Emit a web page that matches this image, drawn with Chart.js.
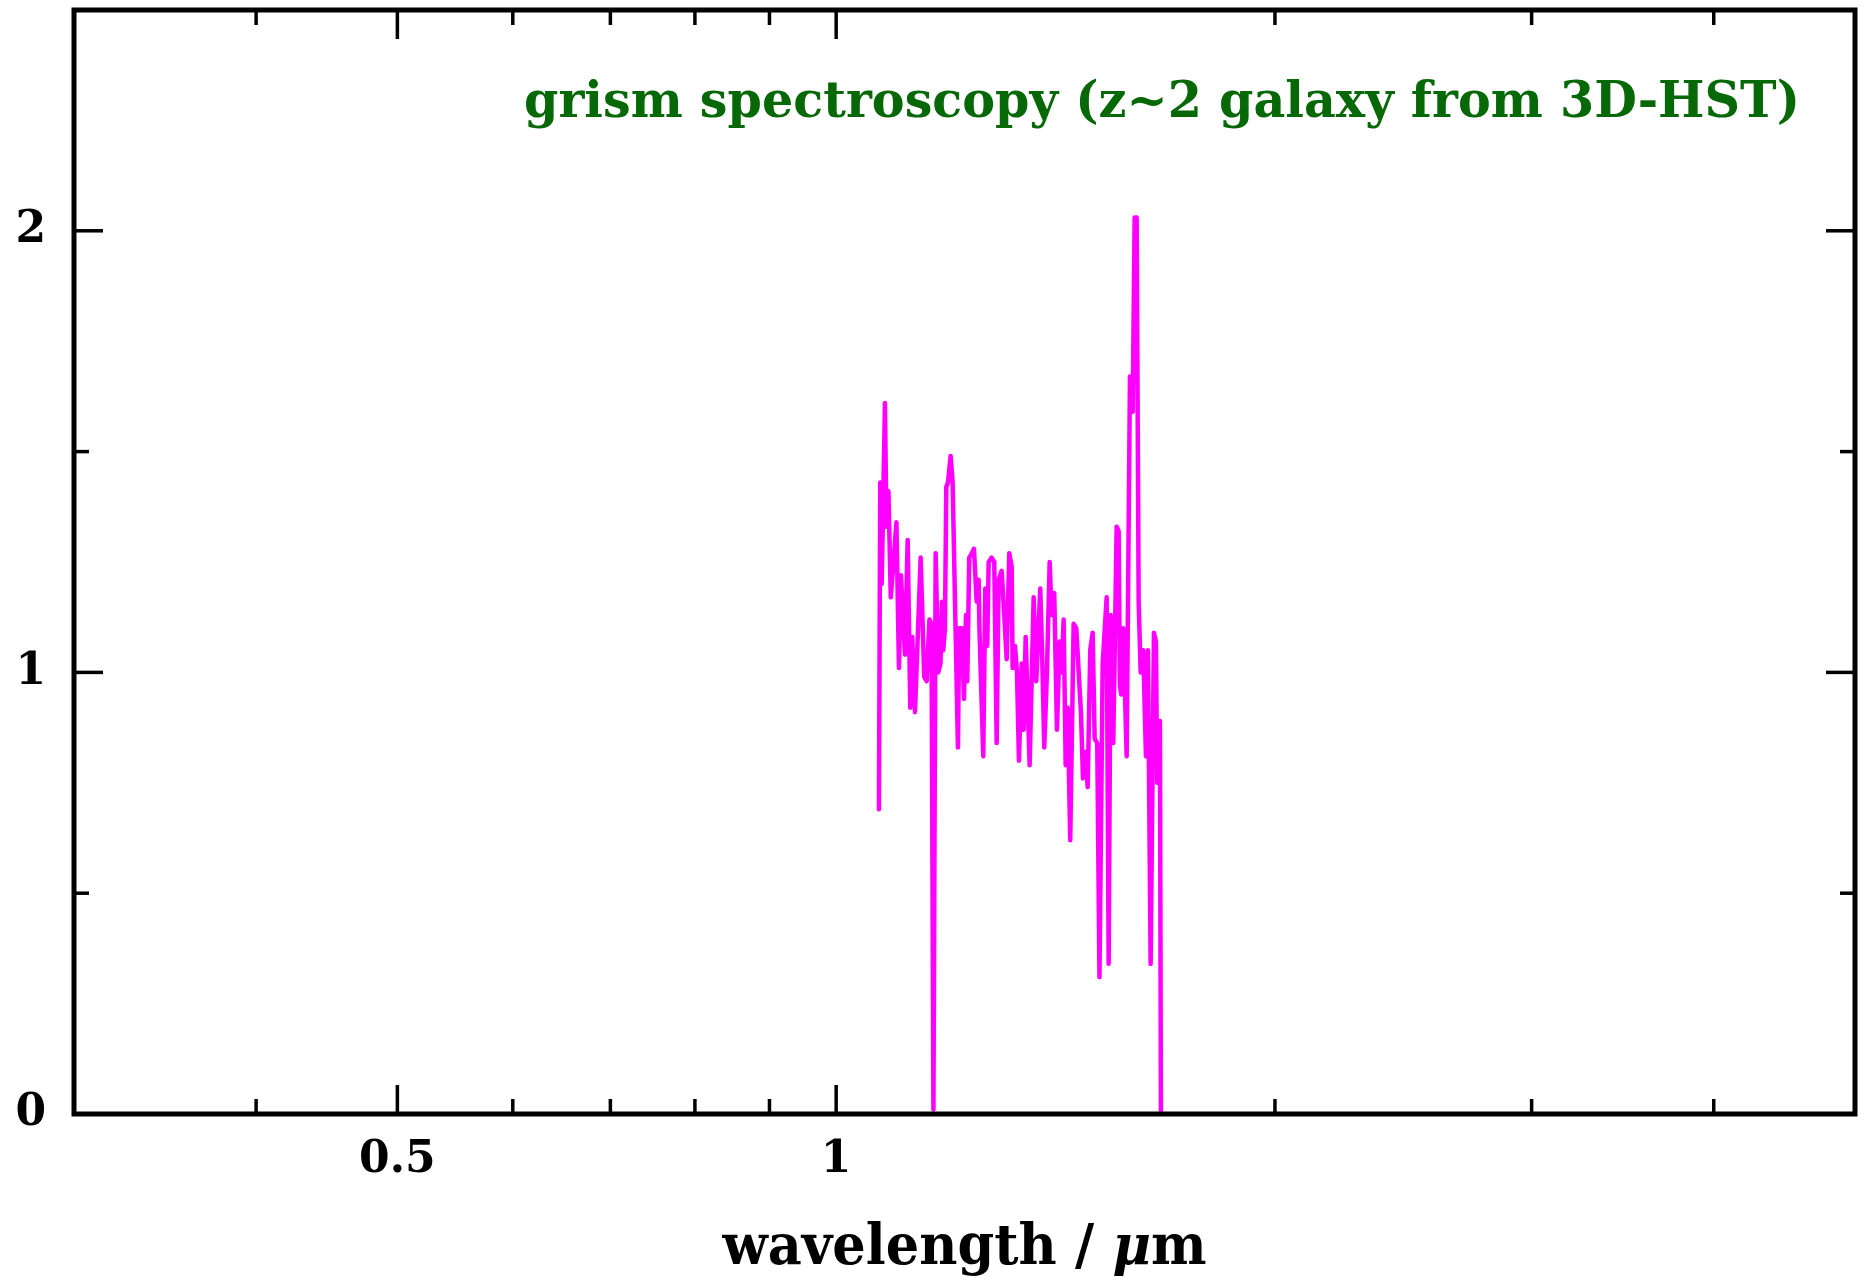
<!DOCTYPE html>
<html>
<head>
<meta charset="utf-8">
<script src="https://cdn.jsdelivr.net/npm/chart.js@4/dist/chart.umd.min.js"></script>
<style>
  html, body { margin: 0; padding: 0; background: #fff; }
  canvas { display: block; }
</style>
</head>
<body>
<canvas id="c" width="1866" height="1277"></canvas>
<script>
// G141 grism spectrum: wavelength in micron, normalised flux
const wavelength = [
  1.0699, 1.0721, 1.0745, 1.0771, 1.0801, 1.0827, 1.0861, 1.0901, 1.0999, 1.1043,
  1.1078, 1.1148, 1.1196, 1.1242, 1.1277, 1.1326, 1.1428, 1.1493, 1.1537, 1.1588,
  1.1625, 1.1661, 1.1702, 1.1750, 1.1791, 1.1819, 1.1843, 1.1875, 1.1900, 1.1932,
  1.1982, 1.2020, 1.2121, 1.2146, 1.2198, 1.2237, 1.2276, 1.2301, 1.2340, 1.2393,
  1.2432, 1.2485, 1.2524, 1.2540, 1.2616, 1.2656, 1.2696, 1.2724, 1.2784, 1.2837,
  1.2886, 1.2926, 1.2988, 1.3041, 1.3091, 1.3145, 1.3195, 1.3215, 1.3264, 1.3306,
  1.3348, 1.3405, 1.3447, 1.3490, 1.3575, 1.3661, 1.3718, 1.3805, 1.3848, 1.3892,
  1.3951, 1.4011, 1.4055, 1.4113, 1.4173, 1.4234, 1.4279, 1.4324, 1.4370, 1.4415,
  1.4474, 1.4552, 1.4612, 1.4675, 1.4721, 1.4768, 1.4831, 1.4878, 1.4939, 1.4996,
  1.5043, 1.5105, 1.5158, 1.5235, 1.5331, 1.5380, 1.5428, 1.5492, 1.5575, 1.5624,
  1.5656, 1.5689, 1.5738, 1.5823, 1.5906, 1.5974, 1.6024, 1.6075, 1.6126, 1.6177,
  1.6243, 1.6313, 1.6364, 1.6434, 1.6520, 1.6572, 1.6606, 1.6677, 1.6703
];
const flux = [
  0.69, 1.43, 1.20, 1.38, 1.61, 1.33, 1.41, 1.17, 1.34, 1.01,
  1.22, 1.04, 1.30, 0.92, 1.08, 0.91, 1.26, 0.99, 0.98, 1.12,
  1.11, 0.01, 1.27, 1.00, 1.02, 1.16, 1.05, 1.10, 1.42, 1.43,
  1.49, 1.43, 0.83, 1.10, 1.10, 0.94, 1.13, 0.98, 1.26, 1.27,
  1.28, 1.16, 1.21, 1.10, 0.81, 1.19, 1.06, 1.25, 1.26, 1.25,
  0.84, 1.21, 1.23, 1.13, 1.03, 1.27, 1.24, 1.01, 1.06, 1.00,
  0.80, 1.02, 0.87, 1.08, 0.79, 1.17, 0.98, 1.19, 1.03, 0.83,
  1.00, 1.25, 1.13, 1.18, 0.87, 1.07, 1.00, 1.12, 0.79, 0.92,
  0.62, 1.11, 1.10, 0.99, 0.91, 0.76, 0.82, 0.74, 1.05, 1.09,
  0.85, 0.84, 0.31, 1.02, 1.17, 0.34, 1.13, 0.84, 1.33, 1.32,
  0.97, 0.95, 1.10, 0.81, 1.67, 1.59, 2.03, 2.03, 1.16, 1.00,
  1.05, 0.81, 1.05, 0.34, 1.09, 1.07, 0.75, 0.89, 0.00
];

// axis ticks and their labels
const xTicks = [0.4, 0.5, 0.6, 0.7, 0.8, 0.9, 1, 2, 3, 4];
const xMajorTicks = [0.5, 1];
const xTickLabels = { 0.5: '0.5', 1: '1' };
const yTicks = [0, 0.5, 1, 1.5, 2, 2.5];
const yMajorTicks = [0, 1, 2];
const yTickLabels = { 0: '0', 1: '1', 2: '2' };

const titleText = 'grism spectroscopy (z~2 galaxy from 3D-HST)';
const xTitleParts = [
  { text: 'wavelength / ', style: 'bold' },
  { text: 'μ', style: 'italic bold' },
  { text: 'm', style: 'bold' }
];

const FONT = '"DejaVu Serif", "Liberation Serif", serif';

// draw a run of text pieces, squeezed/stretched to a given width
function drawRun(ctx, parts, size, left, baseline, width, color) {
  let total = 0;
  const widths = parts.map(p => {
    ctx.font = `${p.style} ${size}px ${FONT}`;
    const w = ctx.measureText(p.text).width;
    total += w;
    return w;
  });
  ctx.save();
  ctx.translate(left, baseline);
  ctx.scale(width / total, 1);
  ctx.fillStyle = color;
  ctx.textBaseline = 'alphabetic';
  ctx.textAlign = 'left';
  let x = 0;
  parts.forEach((p, i) => {
    ctx.font = `${p.style} ${size}px ${FONT}`;
    ctx.fillText(p.text, x, 0);
    x += widths[i];
  });
  ctx.restore();
}

// boxed frame with inward ticks on all four sides, plus the text
const framePlugin = {
  id: 'frame',
  afterDraw(chart) {
    const { ctx, chartArea: a, scales: { x, y } } = chart;
    ctx.save();
    ctx.strokeStyle = '#000';
    ctx.lineCap = 'butt';
    ctx.lineWidth = 3.5;
    const seg = (x1, y1, x2, y2) => {
      ctx.beginPath(); ctx.moveTo(x1, y1); ctx.lineTo(x2, y2); ctx.stroke();
    };
    xTicks.forEach(v => {
      const px = x.getPixelForValue(v);
      const len = xMajorTicks.includes(v) ? 29 : 15;
      seg(px, a.bottom, px, a.bottom - len);
      seg(px, a.top, px, a.top + len);
    });
    yTicks.forEach(v => {
      const py = y.getPixelForValue(v);
      const len = yMajorTicks.includes(v) ? 29 : 15;
      seg(a.left, py, a.left + len, py);
      seg(a.right, py, a.right - len, py);
    });
    ctx.lineWidth = 5;
    ctx.lineJoin = 'miter';
    ctx.strokeRect(a.left, a.top, a.right - a.left, a.bottom - a.top);
    ctx.restore();

    drawRun(ctx, [{ text: titleText, style: 'bold' }], 50,
            a.left + 450, a.top + 107, 1276, '#066806');
    const cx = (a.left + a.right) / 2;
    drawRun(ctx, xTitleParts, 56, cx - 242, a.bottom + 150, 484, '#000');
  }
};

new Chart(document.getElementById('c'), {
  type: 'line',
  data: {
    datasets: [{
      data: wavelength.map((w, i) => ({ x: w, y: flux[i] })),
      borderColor: '#ff00ff',
      borderWidth: 4.5,
      borderJoinStyle: 'round',
      borderCapStyle: 'round',
      pointRadius: 0,
      tension: 0,
      fill: false
    }]
  },
  options: {
    responsive: false,
    animation: false,
    devicePixelRatio: 1,
    layout: { padding: { top: 10, right: 11, left: 0, bottom: 0 } },
    plugins: { legend: { display: false }, tooltip: { enabled: false } },
    scales: {
      x: {
        type: 'logarithmic',
        min: 0.3,
        max: 5,
        grid: { display: false },
        border: { display: false },
        afterBuildTicks: s => { s.ticks = xTicks.map(v => ({ value: v })); },
        afterFit: s => { s.height = 163; s.paddingLeft = 0; s.paddingRight = 0; },
        ticks: {
          autoSkip: false,
          maxRotation: 0,
          padding: 12,
          color: '#000',
          font: { family: FONT, weight: 'bold', size: 44 },
          callback: v => xTickLabels[v] ?? ''
        }
      },
      y: {
        type: 'linear',
        min: 0,
        max: 2.5,
        grid: { display: false },
        border: { display: false },
        afterBuildTicks: s => { s.ticks = yTicks.map(v => ({ value: v })); },
        afterFit: s => { s.width = 74; s.paddingTop = 0; s.paddingBottom = 0; },
        ticks: {
          autoSkip: false,
          padding: 20,
          color: '#000',
          font: { family: FONT, weight: 'bold', size: 44 },
          callback: v => yTickLabels[v] ?? ''
        }
      }
    }
  },
  plugins: [framePlugin]
});
</script>
</body>
</html>
